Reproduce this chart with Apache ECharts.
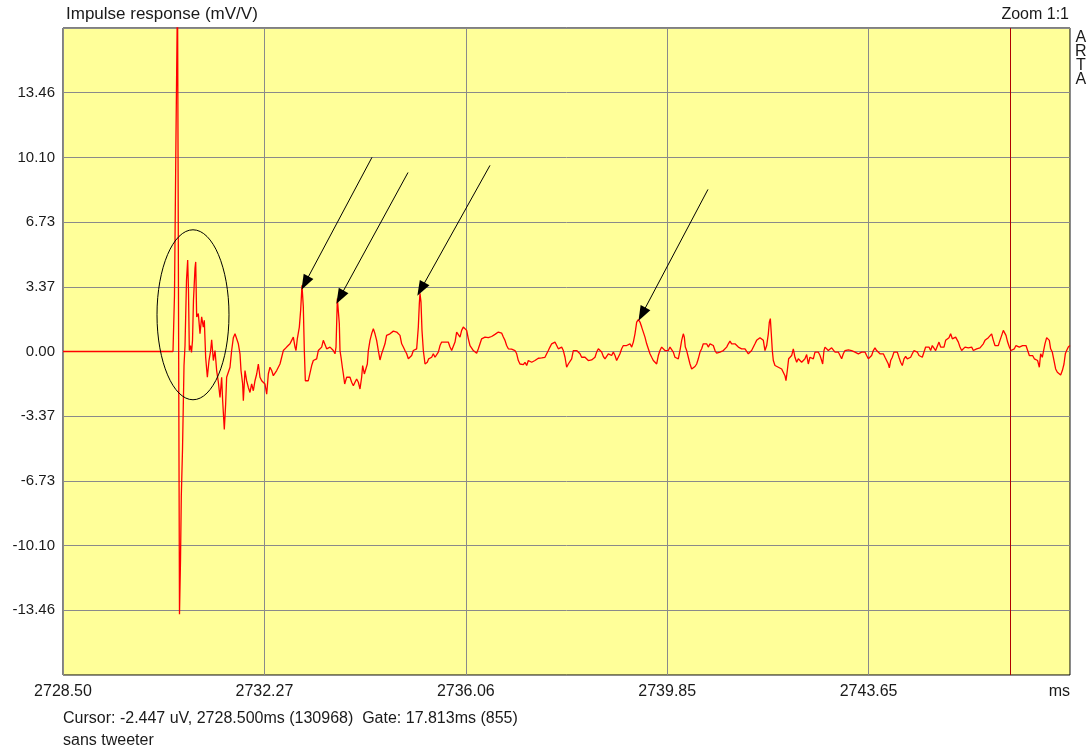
<!DOCTYPE html>
<html>
<head>
<meta charset="utf-8">
<title>Impulse response</title>
<script src="https://cdn.jsdelivr.net/npm/echarts@6/dist/echarts.min.js"></script>
<style>
  html, body { margin: 0; padding: 0; background: #fff; }
  #chart { width: 1090px; height: 752px; }
</style>
</head>
<body>
<div id="chart"></div>
<script>
// axis ranges (ms / mV/V)
const timeStart = 2728.5;
const timeEnd = 2747.44;
const timeStep = 3.788;
const yLimit = 16.825;
const yStep = 3.365;
const xTickLabels = ["2728.50", "2732.27", "2736.06", "2739.85", "2743.65", "ms"];
const yTickLabels = ["", "-13.46", "-10.10", "-6.73", "-3.37", "0.00", "3.37", "6.73", "10.10", "13.46", ""];
const gateTime = 2746.313;

// trace, [ms, mV/V]
const onsetPulse = [
  [2728.500, 0], [2730.569, 0], [2730.597, 2.93], [2730.625, 11.15], [2730.654, 18.9],
  [2730.691, -13.66], [2730.710, -10.88], [2730.725, -7.54], [2730.748, -5.08], [2730.776, -0.73],
  [2730.795, 0.31], [2730.823, 3.72], [2730.845, 4.76], [2730.860, 3.19], [2730.876, 0.05],
  [2730.898, 0.31], [2730.917, -0.05], [2730.936, 0.58], [2730.954, 2.67], [2730.983, 4.34],
  [2730.996, 4.66]
];
const earlyDecay = [
  [2731.014, 1.80], [2731.045, 1.97], [2731.077, 0.92], [2731.108, 1.80], [2731.139, 1.27],
  [2731.158, 1.62], [2731.183, -0.30], [2731.215, -1.34], [2731.246, -0.47], [2731.277, 0.05],
  [2731.296, 0.61], [2731.328, -0.47], [2731.359, 0.05], [2731.390, -0.99], [2731.422, -1.60],
  [2731.453, -2.39], [2731.484, -1.34], [2731.503, -2.56], [2731.534, -4.05], [2731.559, -2.74],
  [2731.578, -1.34], [2731.610, -1.26], [2731.641, -0.82], [2731.672, 0.05], [2731.704, 0.72],
  [2731.735, 0.92], [2731.766, 0.92], [2731.798, 0.40], [2731.829, -0.12], [2731.848, -0.99],
  [2731.879, -1.69], [2731.892, -2.56], [2731.923, -0.99], [2731.954, -1.52], [2731.986, -1.87],
  [2732.017, -2.13], [2732.048, -1.69], [2732.080, -2.04], [2732.111, -1.52], [2732.143, -1.17],
  [2732.174, -0.65], [2732.205, -1.34], [2732.237, -1.52], [2732.268, -1.43], [2732.299, -1.69],
  [2732.331, -2.22], [2732.362, -1.17], [2732.393, -0.82], [2732.425, -0.99], [2732.456, -1.26],
  [2732.487, -1.17], [2732.519, -0.99], [2732.550, -0.82], [2732.581, -0.65], [2732.613, -0.30],
  [2732.644, 0.05], [2732.675, 0.14], [2732.707, 0.23], [2732.738, 0.19], [2732.769, 0.40],
  [2732.801, 0.58], [2732.832, 0.75], [2732.864, 0.23], [2732.882, 0.05], [2732.907, 0.66],
  [2732.945, 1.27], [2732.970, 2.15], [2732.995, 3.45], [2733.020, 2.32], [2733.039, 0.05],
  [2733.058, -1.52], [2733.083, -1.60], [2733.114, -1.52], [2733.146, -1.60]
];
const reflections = [
  [2733.177, -0.73], [2733.208, -0.47], [2733.240, -0.56], [2733.271, -0.38], [2733.302, 0.05],
  [2733.334, 0.05], [2733.365, 0.23], [2733.396, 0.58], [2733.428, 0.58], [2733.459, 0.14],
  [2733.490, 0.23], [2733.522, 0.23], [2733.553, 0.14], [2733.584, 0.05], [2733.616, -0.12],
  [2733.635, 0.23], [2733.660, 2.76], [2733.679, 2.67], [2733.697, 1.45], [2733.710, 0.05],
  [2733.729, -0.30], [2733.754, -0.82], [2733.773, -1.17], [2733.798, -1.69], [2733.835, -1.34],
  [2733.867, -1.43], [2733.898, -1.34], [2733.929, -1.60], [2733.961, -1.78], [2733.992, -1.60],
  [2734.023, -1.43], [2734.055, -1.60], [2734.086, -1.95], [2734.117, -1.34], [2734.136, -0.73],
  [2734.168, -1.17], [2734.199, -1.26], [2734.224, -0.65], [2734.243, 0.05], [2734.274, 0.58],
  [2734.305, 0.92], [2734.337, 1.19], [2734.368, 0.92], [2734.399, 0.58], [2734.431, 0.05],
  [2734.462, -0.44], [2734.493, -0.12], [2734.525, 0.14], [2734.556, 0.40], [2734.586, 0.84],
  [2734.619, 0.89], [2734.650, 0.92], [2734.681, 0.92], [2734.713, 1.06], [2734.744, 1.01],
  [2734.776, 1.01], [2734.807, 1.06], [2734.838, 0.84], [2734.870, 0.40], [2734.901, 0.23],
  [2734.932, 0.05], [2734.964, -0.12], [2734.995, -0.38], [2735.026, -0.47], [2735.058, -0.21],
  [2735.089, 0.05], [2735.120, 0.14], [2735.152, 0.14], [2735.183, 1.27], [2735.202, 2.49],
  [2735.214, 3.02], [2735.233, 2.58], [2735.252, 1.10], [2735.277, 0.05], [2735.309, -0.65],
  [2735.327, -0.73], [2735.352, -0.56], [2735.378, -0.38], [2735.403, -0.30], [2735.434, -0.30],
  [2735.465, -0.12], [2735.497, -0.30], [2735.528, -0.38], [2735.559, -0.03], [2735.591, 0.31],
  [2735.622, 0.49], [2735.653, 0.40], [2735.685, 0.49], [2735.716, 0.40], [2735.747, 0.49],
  [2735.779, 0.23], [2735.810, 0.05], [2735.841, 0.05], [2735.873, 0.49], [2735.904, 1.01],
  [2735.935, 0.92], [2735.967, 0.75], [2735.998, 1.10], [2736.029, 1.27], [2736.061, 1.36],
  [2736.092, 1.10], [2736.124, 0.66], [2736.155, 0.31], [2736.186, 0.23], [2736.218, 0.05],
  [2736.249, -0.03], [2736.280, -0.09], [2736.312, 0.14], [2736.343, 0.40], [2736.374, 0.66],
  [2736.406, 0.58], [2736.437, 0.75], [2736.468, 0.78], [2736.500, 0.72], [2736.531, 0.75],
  [2736.562, 0.78], [2736.594, 0.84], [2736.625, 0.89], [2736.656, 0.92], [2736.688, 1.01],
  [2736.719, 1.10], [2736.750, 0.96], [2736.782, 0.75], [2736.813, 0.58], [2736.844, 0.31],
  [2736.876, 0.14], [2736.907, 0.05], [2736.938, 0.12], [2736.970, 0.09], [2737.001, 0.05],
  [2737.033, -0.12], [2737.064, -0.47], [2737.095, -0.65], [2737.127, -0.61], [2737.158, -0.68],
  [2737.189, -0.56], [2737.221, -0.73], [2737.252, -0.47], [2737.283, -0.38], [2737.315, -0.56],
  [2737.346, -0.65], [2737.377, -0.47], [2737.409, -0.38], [2737.440, -0.35], [2737.471, -0.35],
  [2737.503, -0.33], [2737.534, -0.30], [2737.565, -0.30], [2737.597, -0.21], [2737.628, 0.05],
  [2737.659, 0.23], [2737.691, 0.40], [2737.722, 0.49], [2737.753, 0.49], [2737.785, 0.40],
  [2737.816, 0.14], [2737.848, 0.05]
];
const lateTail = [
  [2737.879, 0.23], [2737.910, 0.05], [2737.942, -0.30], [2737.973, -0.82], [2738.004, -0.65],
  [2738.036, -0.56], [2738.067, -0.38], [2738.098, 0.05], [2738.130, -0.03], [2738.161, 0.05],
  [2738.192, 0.09], [2738.224, -0.12], [2738.255, -0.30], [2738.286, -0.21], [2738.318, -0.30],
  [2738.349, -0.38], [2738.380, -0.47], [2738.412, -0.51], [2738.443, -0.44], [2738.475, -0.38],
  [2738.506, -0.30], [2738.537, -0.03], [2738.569, 0.14], [2738.600, 0.05], [2738.631, -0.03],
  [2738.663, -0.26], [2738.694, -0.38], [2738.725, -0.47], [2738.757, -0.12], [2738.788, -0.03],
  [2738.819, -0.21], [2738.851, -0.03], [2738.882, -0.21], [2738.913, -0.47], [2738.945, -0.38],
  [2738.976, -0.12], [2739.007, 0.14], [2739.039, 0.31], [2739.070, 0.40], [2739.101, 0.31],
  [2739.133, 0.31], [2739.164, 0.40], [2739.196, 0.23], [2739.227, 0.49], [2739.258, 0.92],
  [2739.290, 1.53], [2739.321, 1.66], [2739.352, 1.53], [2739.384, 1.27], [2739.415, 1.01],
  [2739.446, 0.75], [2739.478, 0.40], [2739.509, 0.14], [2739.540, -0.12], [2739.572, -0.30],
  [2739.603, -0.47], [2739.634, -0.56], [2739.666, -0.65], [2739.697, -0.21], [2739.728, 0.05],
  [2739.760, 0.23], [2739.791, 0.14], [2739.822, 0.05], [2739.854, -0.03], [2739.885, 0.05],
  [2739.916, 0.23], [2739.948, 0.14], [2739.979, -0.03], [2740.010, -0.30], [2740.042, -0.21],
  [2740.073, -0.38], [2740.104, 0.05], [2740.136, 0.58], [2740.167, 0.92], [2740.186, 0.75],
  [2740.205, 0.23], [2740.230, 0.05], [2740.261, -0.30], [2740.293, -0.65], [2740.324, -0.91],
  [2740.355, -0.82], [2740.387, -0.78], [2740.418, -0.65], [2740.449, -0.38], [2740.481, -0.03],
  [2740.512, 0.14], [2740.543, 0.40], [2740.575, 0.49], [2740.606, 0.40], [2740.637, 0.23],
  [2740.669, 0.40], [2740.700, 0.40], [2740.731, 0.31], [2740.763, 0.05], [2740.794, -0.09],
  [2740.826, -0.03], [2740.857, -0.03], [2740.888, 0.00], [2740.920, 0.05], [2740.951, 0.05],
  [2740.982, 0.23], [2741.014, 0.40], [2741.045, 0.54], [2741.076, 0.40], [2741.108, 0.31],
  [2741.139, 0.40], [2741.170, 0.31], [2741.202, 0.23], [2741.233, 0.26], [2741.264, 0.14],
  [2741.296, 0.05], [2741.327, 0.14], [2741.358, 0.23], [2741.390, -0.12], [2741.421, -0.03],
  [2741.452, 0.05], [2741.484, 0.14], [2741.515, 0.40], [2741.546, 0.58], [2741.578, 0.66],
  [2741.609, 0.72], [2741.640, 0.75], [2741.672, 0.58], [2741.703, 0.05], [2741.735, 0.31],
  [2741.766, 0.92], [2741.785, 1.53], [2741.804, 1.71], [2741.822, 0.92], [2741.841, 0.05],
  [2741.860, -0.47], [2741.891, -0.73], [2741.923, -0.65], [2741.954, -0.82], [2741.985, -0.73],
  [2742.017, -0.91], [2742.048, -0.99], [2742.079, -1.26], [2742.098, -1.52], [2742.123, -0.99],
  [2742.148, -0.38], [2742.173, -0.30], [2742.205, -0.21], [2742.236, 0.14], [2742.267, -0.30],
  [2742.299, -0.56], [2742.330, -0.38], [2742.361, -0.47], [2742.393, -0.56], [2742.424, -0.65],
  [2742.455, -0.38], [2742.487, -0.16], [2742.518, -0.65], [2742.549, -0.30]
];
const gateTail = [
  [2742.581, -0.30], [2742.612, -0.38], [2742.644, -0.03], [2742.675, 0.05], [2742.706, -0.03],
  [2742.738, -0.21], [2742.769, -0.47], [2742.788, -0.65], [2742.813, 0.05], [2742.832, 0.23],
  [2742.863, 0.14], [2742.894, 0.05], [2742.926, 0.05], [2742.957, 0.19], [2742.988, 0.14],
  [2743.020, -0.03], [2743.051, 0.05], [2743.082, -0.03], [2743.114, -0.12], [2743.145, -0.38],
  [2743.177, -0.12], [2743.208, 0.05], [2743.239, 0.14], [2743.271, 0.09], [2743.302, 0.05],
  [2743.333, 0.05], [2743.365, 0.02], [2743.396, -0.03], [2743.427, -0.03], [2743.459, -0.12],
  [2743.490, -0.21], [2743.521, -0.03], [2743.553, 0.05], [2743.584, -0.03], [2743.615, -0.21],
  [2743.647, -0.38], [2743.678, -0.47], [2743.709, -0.21], [2743.741, 0.05], [2743.772, 0.19],
  [2743.803, 0.05], [2743.835, -0.03], [2743.866, -0.12], [2743.897, -0.21], [2743.929, -0.12],
  [2743.960, -0.30], [2743.991, -0.30], [2744.023, -0.65], [2744.042, -0.85], [2744.067, -0.47],
  [2744.098, -0.30], [2744.129, -0.03], [2744.161, 0.05], [2744.192, -0.03], [2744.223, -0.30],
  [2744.255, -0.56], [2744.286, -0.73], [2744.318, -0.38], [2744.349, -0.26], [2744.380, -0.38],
  [2744.412, -0.47], [2744.443, -0.30], [2744.474, -0.12], [2744.506, 0.05], [2744.537, 0.14],
  [2744.568, -0.03], [2744.600, -0.21], [2744.631, -0.30], [2744.662, -0.30], [2744.694, -0.21],
  [2744.725, 0.23], [2744.756, 0.14], [2744.788, 0.23], [2744.819, 0.05], [2744.850, 0.31],
  [2744.882, 0.23], [2744.913, 0.05], [2744.944, 0.14], [2744.976, 0.49], [2745.007, 0.23],
  [2745.039, 0.31], [2745.070, 0.23], [2745.101, 0.58], [2745.133, 0.66], [2745.164, 0.72],
  [2745.195, 0.92], [2745.227, 0.66], [2745.258, 0.58], [2745.289, 0.75], [2745.308, 0.78],
  [2745.340, 0.49], [2745.371, 0.23], [2745.402, 0.05], [2745.433, 0.14], [2745.465, 0.23],
  [2745.496, 0.14], [2745.528, 0.19], [2745.559, 0.14], [2745.590, 0.23], [2745.622, 0.05],
  [2745.653, -0.03], [2745.684, 0.14], [2745.716, 0.23], [2745.747, 0.19], [2745.778, 0.26],
  [2745.810, 0.40], [2745.841, 0.58], [2745.872, 0.66], [2745.904, 0.72], [2745.935, 0.78],
  [2745.966, 0.92], [2745.998, 0.58], [2746.029, 0.31], [2746.060, 0.40], [2746.092, 0.31],
  [2746.123, 0.58], [2746.155, 0.84], [2746.186, 1.10], [2746.205, 1.19], [2746.236, 0.84],
  [2746.267, 0.49], [2746.299, 0.23], [2746.330, 0.05], [2746.361, -0.03], [2746.393, 0.14],
  [2746.424, 0.31], [2746.455, 0.37], [2746.487, 0.23], [2746.518, 0.23], [2746.549, 0.31],
  [2746.581, 0.40], [2746.612, 0.31], [2746.643, 0.23], [2746.675, -0.21], [2746.706, -0.30],
  [2746.737, -0.21], [2746.769, -0.38], [2746.800, -0.38], [2746.831, -0.47], [2746.863, -0.82],
  [2746.888, -0.12], [2746.919, -0.30], [2746.938, -0.03], [2746.969, 0.40], [2747.001, 0.72],
  [2747.020, 0.78], [2747.051, 0.58], [2747.076, 0.14], [2747.107, -0.03], [2747.139, -0.47],
  [2747.170, -0.91], [2747.202, -1.08], [2747.233, -1.13], [2747.264, -1.22], [2747.296, -0.99],
  [2747.327, -0.65], [2747.352, -0.12], [2747.377, 0.05], [2747.408, 0.23], [2747.440, 0.31]
];

// hand drawn annotations on the original, in data units
const arrowTails = [[2734.312, 10.10], [2734.989, 9.31], [2736.531, 9.68], [2740.631, 8.43]];
const arrowHeads = [[2733.052, 3.56], [2733.710, 2.83], [2735.233, 3.24], [2739.390, 1.94]];
const ellipseCenter = [2730.945, 1.91];
const ellipseRadius = [0.677, 4.42];

const trace = onsetPulse.concat(earlyDecay, reflections, lateTail, gateTail);
const font = "'Liberation Sans', Arial, sans-serif";
const textColor = "#1a1a1a";
const gridColor = "#8a8a8a";

const chart = echarts.init(document.getElementById("chart"));

// gate marker + arrows
const markData = [
  { xAxis: gateTime, lineStyle: { color: "#b00000", width: 1, type: "solid" } }
];
arrowTails.forEach((tail, i) => {
  markData.push([
    { coord: tail, symbol: "none", lineStyle: { color: "#000", width: 1, type: "solid" } },
    { coord: arrowHeads[i], symbol: "triangle", symbolSize: [11, 15] }
  ]);
});

const option = {
  backgroundColor: "#ffffff",
  animation: false,
  textStyle: { fontFamily: font },
  grid: {
    left: 63,
    right: 20,
    top: 28,
    bottom: 77,
    show: true,
    backgroundColor: "#ffff99",
    borderColor: "#000000",
    borderWidth: 1
  },
  xAxis: [
    {
      type: "value",
      min: timeStart,
      max: timeEnd,
      show: false
    },
    {
      // offset scale used only for ticks and grid lines
      type: "value",
      position: "bottom",
      min: 0,
      max: timeEnd - timeStart,
      interval: timeStep,
      axisLine: { show: false },
      axisTick: { show: false },
      splitLine: { show: true, lineStyle: { color: gridColor, width: 1 } },
      axisLabel: {
        show: true,
        margin: 9,
        fontSize: 16,
        color: textColor,
        fontFamily: font,
        showMinLabel: true,
        showMaxLabel: true,
        alignMinLabel: "center",
        alignMaxLabel: "right",
        formatter: (v) => xTickLabels[Math.round(v / timeStep)] || ""
      }
    }
  ],
  yAxis: {
    type: "value",
    min: -yLimit,
    max: yLimit,
    interval: yStep,
    axisLine: { show: false },
    axisTick: { show: false },
    splitLine: { show: true, lineStyle: { color: gridColor, width: 1 } },
    axisLabel: {
      margin: 8,
      fontSize: 15,
      color: textColor,
      fontFamily: font,
      formatter: (v) => yTickLabels[Math.round((v + yLimit) / yStep)] || ""
    }
  },
  series: [
    {
      type: "line",
      xAxisIndex: 0,
      yAxisIndex: 0,
      data: trace,
      showSymbol: false,
      symbol: "none",
      clip: true,
      lineStyle: { color: "#ff0000", width: 1.3 },
      markLine: {
        silent: true,
        symbol: ["none", "none"],
        label: { show: false },
        emphasis: { disabled: true },
        itemStyle: { color: "#000" },
        data: markData
      },
      z: 3
    }
  ],
  graphic: [
    {
      type: "text",
      left: 66,
      top: 6,
      style: { text: "Impulse response (mV/V)", font: "17px " + font, fill: textColor }
    },
    {
      type: "text",
      right: 21,
      top: 7,
      style: { text: "Zoom 1:1", font: "16px " + font, fill: textColor, textAlign: "right" }
    },
    {
      type: "text",
      left: 1075,
      top: 30,
      style: { text: "A\nR\nT\nA", font: "16px " + font, fill: textColor, lineHeight: 14, textAlign: "center" }
    },
    {
      type: "text",
      left: 63,
      top: 711,
      style: { text: "Cursor: -2.447 uV, 2728.500ms (130968)  Gate: 17.813ms (855)", font: "16px " + font, fill: textColor }
    },
    {
      type: "text",
      left: 63,
      top: 733,
      style: { text: "sans tweeter", font: "16px " + font, fill: textColor }
    }
  ]
};

chart.setOption(option);

// ellipse around the first arrivals, placed through the axes
const c = chart.convertToPixel({ xAxisIndex: 0, yAxisIndex: 0 }, ellipseCenter);
const edge = chart.convertToPixel({ xAxisIndex: 0, yAxisIndex: 0 },
  [ellipseCenter[0] + ellipseRadius[0], ellipseCenter[1] + ellipseRadius[1]]);
chart.setOption({
  graphic: option.graphic.concat([
    {
      type: "ellipse",
      z: 10,
      shape: { cx: c[0], cy: c[1], rx: edge[0] - c[0], ry: c[1] - edge[1] },
      style: { fill: "none", stroke: "#000", lineWidth: 1 }
    }
  ])
});
</script>
</body>
</html>
